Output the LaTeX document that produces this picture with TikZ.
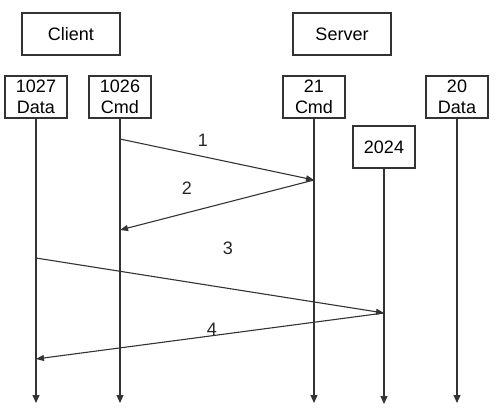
\documentclass[tikz,border=0pt]{standalone}
\usepackage{fontspec}
\setmainfont{Liberation Sans}
\usetikzlibrary{arrows.meta}
\begin{document}
\begin{tikzpicture}[x=1pt,y=-1pt,
  line width=1.2pt,
  ink/.style={draw=black!80},
  box/.style={ink, fill=white, inner sep=0pt, minimum height=42pt, align=center,
     font=\fontsize{18}{20.5}\selectfont},
  bigbox/.style={box, minimum width=98pt},
  portbox/.style={box, minimum width=62pt},
  life/.style={ink, -{Triangle[length=8pt,width=7pt]}},
  msg/.style={ink, line width=1.1pt, -{Triangle[length=8pt,width=6pt]}},
  lbl/.style={font=\fontsize{18}{20.5}\selectfont, inner sep=0pt, text=black!85}]
\useasboundingbox (0,0) rectangle (496,413);
\node[bigbox] (client) at (71,34) {Client};
\node[bigbox] (server) at (342,34) {Server};
\node[portbox] (d1027) at (36,97) {1027\\Data};
\node[portbox] (c1026) at (120,97) {1026\\Cmd};
\node[portbox] (c21) at (314,97) {21\\Cmd};
\node[portbox] (d20) at (457,97) {20\\Data};
\node[portbox] (p2024) at (384,147) {2024};
\coordinate (e1027) at (36,403);
\coordinate (e1026) at (120,403);
\coordinate (e21) at (314,403);
\coordinate (e2024) at (384,404);
\coordinate (e20) at (457,403);
\draw[life] (d1027.south) -- (e1027);
\draw[life] (c1026.south) -- (e1026);
\draw[life] (c21.south) -- (e21);
\draw[life] (p2024.south) -- (e2024);
\draw[life] (d20.south) -- (e20);
\coordinate (m1s) at (120,139);
\coordinate (m1e) at (314,180);
\coordinate (m2e) at (120,230);
\coordinate (m3s) at (36,258);
\coordinate (m3e) at (384,313);
\coordinate (m4e) at (36,359);
\draw[msg] (m1s) -- (m1e);
\draw[msg] (m1e) -- (m2e);
\draw[msg] (m3s) -- (m3e);
\draw[msg] (m3e) -- (m4e);
\node[lbl] (l1) at (203,140) {1};
\node[lbl] (l2) at (187,188) {2};
\node[lbl] (l3) at (228,248) {3};
\node[lbl] (l4) at (212,329) {4};
\end{tikzpicture}
\end{document}
